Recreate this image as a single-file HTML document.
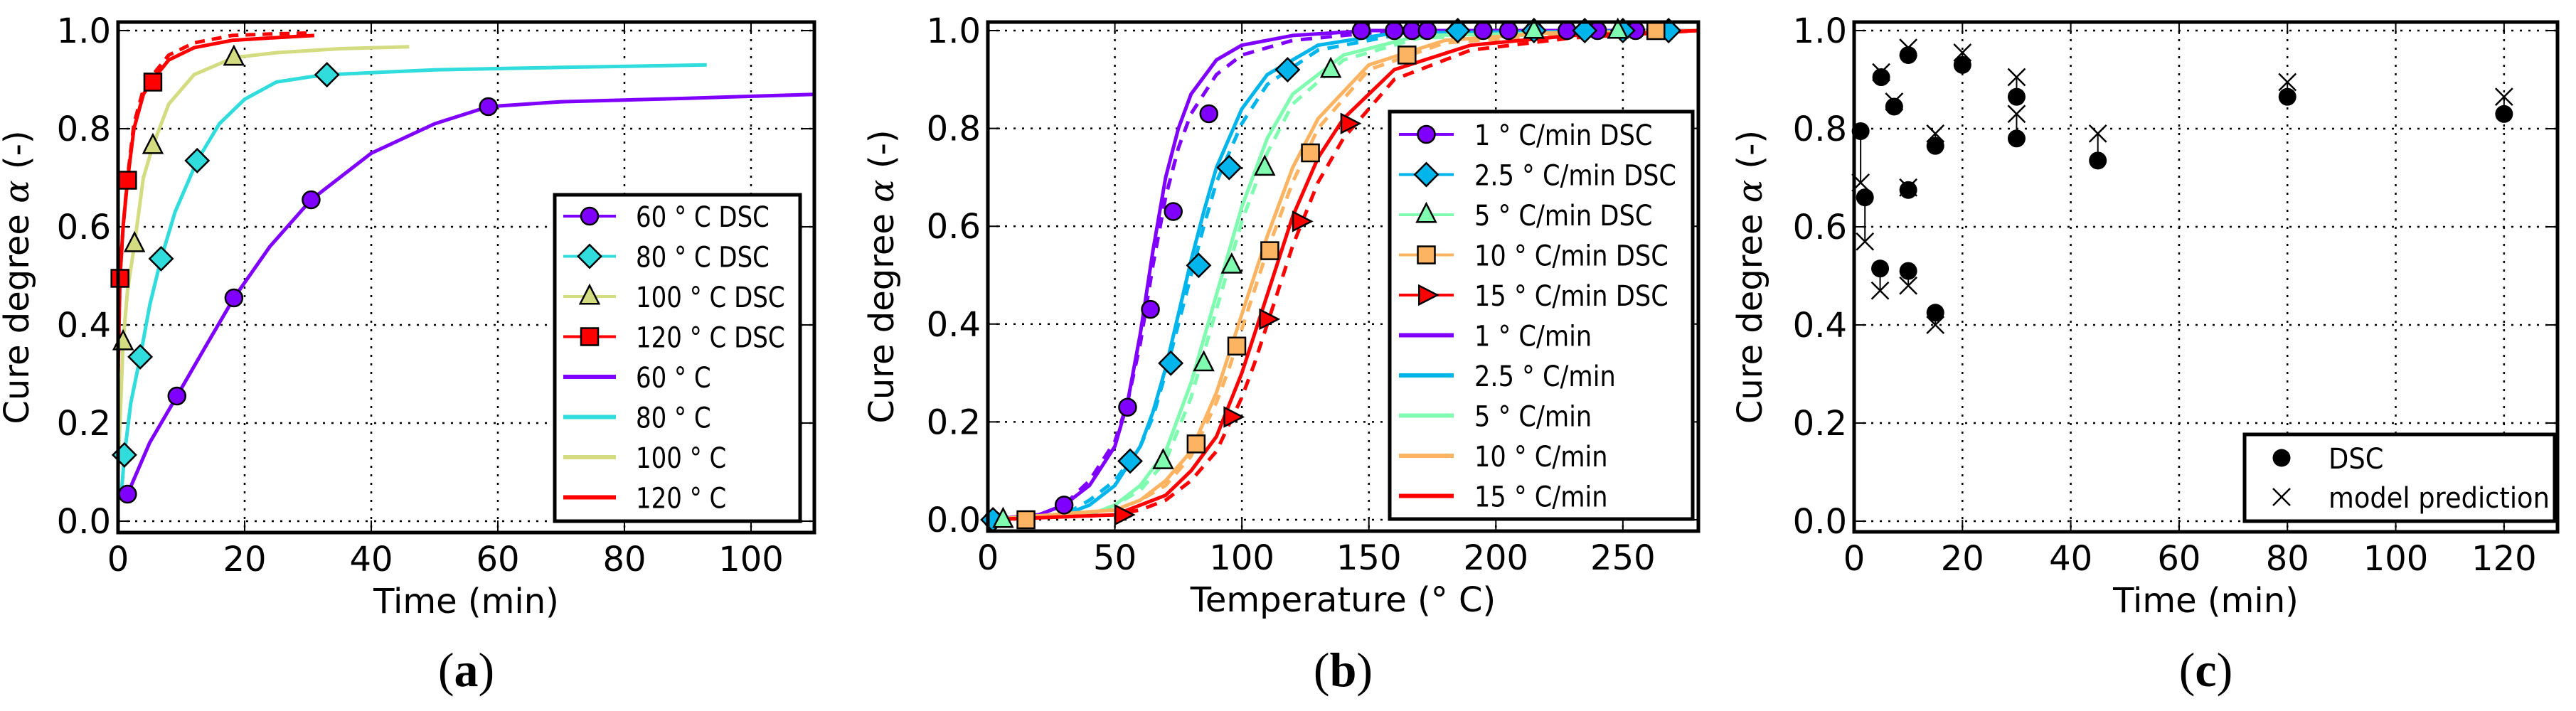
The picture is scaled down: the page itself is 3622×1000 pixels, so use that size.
<!DOCTYPE html>
<html><head><meta charset="utf-8"><style>
html,body{margin:0;padding:0;background:#fff;}
svg{display:block;font-family:"DejaVu Sans","Liberation Sans",sans-serif;}
</style></head><body>
<svg id="fig" width="3622" height="1000" viewBox="0 0 3622 1000" xmlns="http://www.w3.org/2000/svg"></svg>
<script>
// ---------- Panel (a) data ----------
const aDscT60=[1.5,9.3,18.3,30.5,58.5];
const aDscV60=[0.055,0.255,0.455,0.655,0.845];
const aDscT80=[1,3.5,6.8,12.5,33];
const aDscV80=[0.135,0.335,0.535,0.735,0.91];
const aDscT100=[0.8,2.6,5.5,18.3];
const aDscV100=[0.365,0.565,0.765,0.945];
const aDscT120=[0.3,1.5,5.5];
const aDscV120=[0.495,0.695,0.895];
const aModT60=[1.5,5,9.3,14,18.3,24,30.5,40,50,58.5,70,90,110];
const aModV60=[0.055,0.16,0.255,0.36,0.455,0.56,0.655,0.75,0.81,0.845,0.855,0.862,0.87];
const aModT80=[0.5,1,2,3.5,5,6.8,9,12.5,16,20,25,30,33,50,70,93];
const aModV80=[0.05,0.135,0.24,0.335,0.44,0.535,0.63,0.735,0.81,0.86,0.895,0.905,0.91,0.92,0.925,0.93];
const aModT100=[0,0.3,0.8,1.5,2.6,4,5.5,8,12,18.3,25,35,46];
const aModV100=[0.1,0.2,0.365,0.47,0.565,0.7,0.765,0.85,0.91,0.945,0.955,0.963,0.967];
const aModT120=[0,0.3,0.8,1.5,2.5,4,5.5,8,12,18,24,31];
const aModV120=[0.3,0.495,0.6,0.695,0.8,0.87,0.9,0.94,0.965,0.98,0.985,0.99];
const aDashT120=[0,0.3,0.8,1.5,2.5,4,5.5,8,12,18,24,30];
const aDashV120=[0.3,0.5,0.6,0.7,0.81,0.88,0.91,0.95,0.975,0.99,0.993,0.995];
const aXTicks=[0,20,40,60,80,100];
const yTicks=[0,0.2,0.4,0.6,0.8,1.0];
const yTickLabels=["0.0","0.2","0.4","0.6","0.8","1.0"];

// ---------- Panel (b) data ----------
const bDscT1=[2,30,55,64,73,87,147,160,167,173,185,195,205,215,228,240,250,255];
const bDscV1=[0,0.03,0.23,0.43,0.63,0.83,1,1,1,1,1,1,1,1,1,1,1,1];
const bDscT25=[2,56,72,83,95,118,185,215,235,250,268];
const bDscV25=[0,0.12,0.32,0.52,0.72,0.92,1,1,1,1,1];
const bDscT5=[6,69,85,96,109,135,215,248];
const bDscV5=[0,0.12,0.32,0.52,0.72,0.92,1,1];
const bDscT10=[15,82,98,111,127,165,263];
const bDscV10=[0,0.155,0.355,0.55,0.75,0.95,1];
const bDscT15=[53,96,110,123,142];
const bDscV15=[0.01,0.21,0.41,0.61,0.81];
const bModT1=[0,20,30,40,50,55,60,65,70,75,80,90,100,120,150,280];
const bModV1=[0,0.01,0.03,0.07,0.15,0.24,0.38,0.55,0.7,0.8,0.87,0.94,0.97,0.99,1,1];
const bDashV1=[0,0.01,0.03,0.08,0.16,0.24,0.36,0.52,0.66,0.76,0.83,0.91,0.95,0.98,0.995,1];
const bModT25=[0,30,40,50,60,65,70,75,80,85,90,100,110,130,160,280];
const bModV25=[0,0.01,0.03,0.07,0.15,0.22,0.31,0.42,0.53,0.63,0.72,0.84,0.91,0.97,0.995,1];
const bDashV25=[0,0.01,0.04,0.08,0.15,0.21,0.3,0.4,0.5,0.6,0.69,0.81,0.89,0.96,0.99,1];
const bModT5=[0,40,50,60,70,80,85,90,95,100,110,120,140,170,280];
const bModV5=[0,0.01,0.03,0.07,0.14,0.28,0.37,0.46,0.55,0.64,0.78,0.87,0.95,0.99,1];
const bDashV5=[0,0.01,0.03,0.06,0.12,0.25,0.34,0.43,0.52,0.61,0.75,0.85,0.94,0.985,1];
const bModT10=[0,50,60,70,80,90,95,100,105,110,120,130,150,180,220,280];
const bModV10=[0,0.02,0.04,0.08,0.14,0.26,0.34,0.42,0.5,0.58,0.72,0.82,0.93,0.98,0.995,1];
const bDashV10=[0,0.02,0.04,0.07,0.13,0.24,0.31,0.39,0.47,0.55,0.69,0.8,0.92,0.975,0.99,1];
const bModT15=[0,50,60,70,80,90,100,105,110,115,120,130,140,160,190,230,280];
const bModV15=[0,0.01,0.03,0.05,0.1,0.17,0.3,0.38,0.46,0.54,0.62,0.74,0.82,0.92,0.97,0.99,1];
const bDashV15=[0,0.01,0.02,0.04,0.08,0.14,0.25,0.32,0.4,0.48,0.56,0.69,0.78,0.9,0.96,0.985,1];
const bXTicks=[0,50,100,150,200,250];

// ---------- Panel (c) data ----------
const cT=[1.2,2,4.8,5,7.4,10,10,10,15,15,20,30,30,45,80,120];
const cDsc=[0.795,0.66,0.515,0.905,0.845,0.95,0.675,0.51,0.765,0.425,0.93,0.865,0.78,0.735,0.865,0.83];
const cModel=[0.69,0.57,0.47,0.915,0.855,0.965,0.68,0.48,0.79,0.40,0.955,0.905,0.83,0.79,0.895,0.865];
const cXTicks=[0,20,40,60,80,100,120];

const NS="http://www.w3.org/2000/svg";
const svg=document.getElementById('fig');
function mk(tag,attrs,parent){const e=document.createElementNS(NS,tag);for(const k in attrs)e.setAttribute(k,attrs[k]);(parent||svg).appendChild(e);return e;}

function makeAxes(p){
  const sx=v=>p.x0+(v-p.xmin)/(p.xmax-p.xmin)*(p.x1-p.x0);
  const sy=v=>p.y0+(v-p.ymin)/(p.ymax-p.ymin)*(p.y1-p.y0);
  return {sx,sy};
}
function drawFrame(g,p,ax,xt,xlabel,plabel){
  const {sx,sy}=ax;
  xt.forEach(v=>{const l=mk('line',{x1:sx(v),x2:sx(v),y1:p.y1,y2:p.y0,stroke:'#000','stroke-width':2.5,'stroke-dasharray':'3,9'},g);
    });
  yTicks.forEach(v=>{const l=mk('line',{x1:p.x0,x2:p.x1,y1:sy(v),y2:sy(v),stroke:'#000','stroke-width':2.5,'stroke-dasharray':'3,9'},g);
    });
  xt.forEach((v,i)=>{
    mk('line',{x1:sx(v),x2:sx(v),y1:p.y0,y2:p.y0-17,stroke:'#000','stroke-width':2},g);
    mk('line',{x1:sx(v),x2:sx(v),y1:p.y1,y2:p.y1+17,stroke:'#000','stroke-width':2},g);
    const t=mk('text',{x:sx(v),y:p.y0+54,'text-anchor':'middle','font-size':48},g);t.textContent=String(v);
    
  });
  yTicks.forEach((v,i)=>{
    mk('line',{x1:p.x0,x2:p.x0+17,y1:sy(v),y2:sy(v),stroke:'#000','stroke-width':2},g);
    mk('line',{x1:p.x1,x2:p.x1-17,y1:sy(v),y2:sy(v),stroke:'#000','stroke-width':2},g);
    const t=mk('text',{x:p.x0-10,y:sy(v)+17,'text-anchor':'end','font-size':48},g);t.textContent=yTickLabels[i];
    
  });
  const xl=mk('text',{x:(p.x0+p.x1)/2,y:p.y0+113,'text-anchor':'middle','font-size':48},g);xl.textContent=xlabel;
  
  const yl=mk('text',{x:0,y:0,'text-anchor':'middle','font-size':48,transform:`translate(${p.ylx},${(p.y0+p.y1)/2}) rotate(-90)`},g);
  yl.innerHTML='Cure degree <tspan font-style="italic" font-family="DejaVu Serif, serif">α</tspan> (-)';
  
  const pl=mk('text',{x:(p.x0+p.x1)/2,y:965,'text-anchor':'middle','font-size':68,'font-family':'Liberation Serif, serif'},g);
  pl.innerHTML='(<tspan font-weight="bold">'+plabel+'</tspan>)';
  
}
function drawBorder(g,p){
  const r=mk('rect',{x:p.x0,y:p.y1,width:p.x1-p.x0,height:p.y0-p.y1,fill:'none',stroke:'#000','stroke-width':5},g);
  
}
function line(g,ax,xs,ys,color,dash,w){
  const pts=xs.map((x,i)=>ax.sx(x).toFixed(1)+','+ax.sy(ys[i]).toFixed(1)).join(' ');
  const a={points:pts,fill:'none',stroke:color,'stroke-width':w||5,'stroke-linejoin':'round'};
  if(dash)a['stroke-dasharray']=dash;
  return mk('polyline',a,g);
}
function marker(g,type,cx,cy,color,s){
  s=s||12;let e;
  const st={fill:color,stroke:'#000','stroke-width':2.5};
  if(type==='o')e=mk('circle',Object.assign({cx,cy,r:s},st),g);
  else if(type==='D')e=mk('polygon',Object.assign({points:`${cx},${cy-s*1.35} ${cx+s*1.35},${cy} ${cx},${cy+s*1.35} ${cx-s*1.35},${cy}`},st),g);
  else if(type==='^')e=mk('polygon',Object.assign({points:`${cx},${cy-s*1.3} ${cx+s*1.1},${cy+s*0.85} ${cx-s*1.1},${cy+s*0.85}`},st),g);
  else if(type==='s')e=mk('rect',Object.assign({x:cx-s,y:cy-s,width:2*s,height:2*s},st),g);
  else if(type==='>')e=mk('polygon',Object.assign({points:`${cx+s*1.3},${cy} ${cx-s*0.85},${cy-s*1.1} ${cx-s*0.85},${cy+s*1.1}`},st),g);
  else if(type==='c')e=mk('circle',{cx,cy,r:s,fill:'#000'},g);
  else if(type==='x'){e=mk('path',{d:`M${cx-s},${cy-s}L${cx+s},${cy+s}M${cx-s},${cy+s}L${cx+s},${cy-s}`,stroke:'#000','stroke-width':2.5,fill:'none'},g);}
  return e;
}
function legend(g,box,rows){
  const r=mk('rect',{x:box.x,y:box.y,width:box.w,height:box.h,fill:'#fff',stroke:'#000','stroke-width':5},g);
  
  rows.forEach((row,i)=>{
    const y=box.ry+i*box.dy;
    const gg=mk('g',{},g);
    
    if(row.color)mk('line',{x1:box.lx1,x2:box.lx2,y1:y,y2:y,stroke:row.color,'stroke-width':row.m?4:6},gg);
    if(row.m)marker(gg,row.m,(box.lx1+box.lx2)/2,y,row.color||'#000',row.ms||12);
    const t=mk('text',{x:box.tx,y:y+15,'font-size':40},gg);t.textContent=row.label;
    const len=t.getComputedTextLength();
    if(len>0){t.setAttribute('textLength',(len*box.sq).toFixed(1));t.setAttribute('lengthAdjust','spacingAndGlyphs');}
  });
}

// ===== Panel A =====
(function(){
  const p={x0:166,x1:1145,y0:733,y1:43,xmin:0,xmax:110,ymin:0,ymax:1};
  const ax=makeAxes(p);
  const fr={x0:166,x1:1145,y0:749,y1:31};
  const g=mk('g',{});
  drawFrame(g,{x0:fr.x0,x1:fr.x1,y0:fr.y0,y1:fr.y1,ylx:40},ax,aXTicks,'Time (min)','a');
  const C={60:'#7f00ff',80:'#30dcdc',100:'#d4dc82',120:'#ff0000'};
  const s1=line(g,ax,aModT60,aModV60,C[60]);
  const s2=line(g,ax,aModT80,aModV80,C[80]);
  const s3=line(g,ax,aModT100,aModV100,C[100]);
  const s4=line(g,ax,aDashT120,aDashV120,C[120],'14,10');
  const s5=line(g,ax,aModT120,aModV120,C[120]);
  aDscT60.forEach((t,i)=>{const m=marker(g,'o',ax.sx(t),ax.sy(aDscV60[i]),C[60]);});
  aDscT80.forEach((t,i)=>{const m=marker(g,'D',ax.sx(t),ax.sy(aDscV80[i]),C[80]);});
  aDscT100.forEach((t,i)=>{const m=marker(g,'^',ax.sx(t),ax.sy(aDscV100[i]),C[100]);});
  aDscT120.forEach((t,i)=>{const m=marker(g,'s',ax.sx(t),ax.sy(aDscV120[i]),C[120]);});
  drawBorder(g,fr);
  legend(g,{x:780,y:274,w:345,h:459,ry:304,dy:56.5,lx1:792,lx2:866,tx:894,sq:0.85},[
    {label:'60 ° C DSC',color:C[60],m:'o'},{label:'80 ° C DSC',color:C[80],m:'D'},
    {label:'100 ° C DSC',color:C[100],m:'^'},{label:'120 ° C DSC',color:C[120],m:'s'},
    {label:'60 ° C',color:C[60]},{label:'80 ° C',color:C[80]},{label:'100 ° C',color:C[100]},{label:'120 ° C',color:C[120]}]);
})();

// ===== Panel B =====
(function(){
  const p={x0:1389,x1:2389,y0:731,y1:43,xmin:0,xmax:280,ymin:0,ymax:1};
  const ax=makeAxes(p);
  const fr={x0:1389,x1:2388,y0:747,y1:31};
  const g=mk('g',{});
  drawFrame(g,{x0:fr.x0,x1:fr.x1,y0:fr.y0,y1:fr.y1,ylx:1256},ax,bXTicks,'Temperature (° C)','b');
  const C=['#7f00ff','#00b4ec','#80fcb0','#fdb462','#ff0000'];
  const T=[bModT1,bModT25,bModT5,bModT10,bModT15];
  const S=[bModV1,bModV25,bModV5,bModV10,bModV15];
  const D=[bDashV1,bDashV25,bDashV5,bDashV10,bDashV15];
  const names=['1','2-5','5','10','15'];
  for(let k=0;k<5;k++){
    const d=line(g,ax,T[k],D[k],C[k],'16,12');
    
    const s=line(g,ax,T[k],S[k],C[k]);
    
  }
  const DT=[bDscT1,bDscT25,bDscT5,bDscT10,bDscT15],DV=[bDscV1,bDscV25,bDscV5,bDscV10,bDscV15];
  const M=['o','D','^','s','>'];
  for(let k=0;k<5;k++){
    DT[k].forEach((t,i)=>{const m=marker(g,M[k],ax.sx(t),ax.sy(DV[k][i]),C[k]);});
  }
  drawBorder(g,fr);
  legend(g,{x:1954,y:157,w:426,h:573,ry:189,dy:56.5,lx1:1967,lx2:2044,tx:2073,sq:0.88},[
    {label:'1 ° C/min DSC',color:C[0],m:'o'},{label:'2.5 ° C/min DSC',color:C[1],m:'D'},
    {label:'5 ° C/min DSC',color:C[2],m:'^'},{label:'10 ° C/min DSC',color:C[3],m:'s'},
    {label:'15 ° C/min DSC',color:C[4],m:'>'},
    {label:'1 ° C/min',color:C[0]},{label:'2.5 ° C/min',color:C[1]},{label:'5 ° C/min',color:C[2]},
    {label:'10 ° C/min',color:C[3]},{label:'15 ° C/min',color:C[4]}]);
})();

// ===== Panel C =====
(function(){
  const p={x0:2607,x1:3597,y0:733,y1:43,xmin:0,xmax:130,ymin:0,ymax:1};
  const ax=makeAxes(p);
  const fr={x0:2607,x1:3596,y0:748,y1:31};
  const g=mk('g',{});
  drawFrame(g,{x0:fr.x0,x1:fr.x1,y0:fr.y0,y1:fr.y1,ylx:2477},ax,cXTicks,'Time (min)','c');
  cT.forEach((t,i)=>{
    const l=mk('line',{x1:ax.sx(t),x2:ax.sx(t),y1:ax.sy(cDsc[i]),y2:ax.sy(cModel[i]),stroke:'#000','stroke-width':2},g);
    
    const m=marker(g,'c',ax.sx(t),ax.sy(cDsc[i]),'#000',12.5);
    
    const x=marker(g,'x',ax.sx(t),ax.sy(cModel[i]),'#000',12);
    
  });
  drawBorder(g,fr);
  legend(g,{x:3156,y:611,w:436,h:122,ry:644,dy:55,lx1:3190,lx2:3226,tx:3274,sq:0.92},[
    {label:'DSC',m:'c',ms:12.5},{label:'model prediction',m:'x',ms:12}]);
})();
</script>
</body></html>
